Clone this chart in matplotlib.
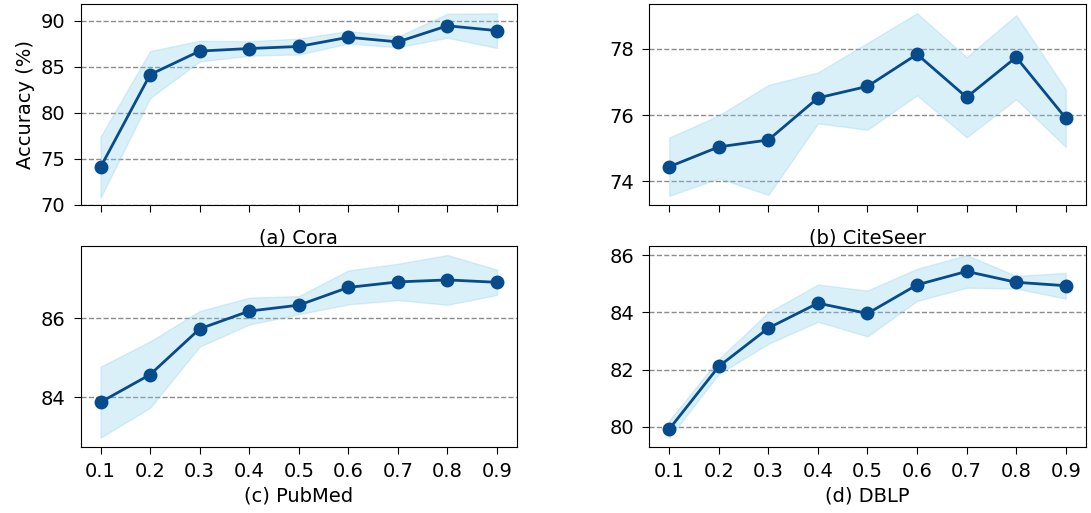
import matplotlib
matplotlib.use('Agg')
import matplotlib.pyplot as plt
import numpy as np

# ratios on the x axis
ratios = [0.1, 0.2, 0.3, 0.4, 0.5, 0.6, 0.7, 0.8, 0.9]
ratio_labels = ['0.1', '0.2', '0.3', '0.4', '0.5', '0.6', '0.7', '0.8', '0.9']

# mean accuracy and std per dataset
cora_mean = [74.1, 84.15, 86.7, 86.98, 87.2, 88.2, 87.7, 89.45, 88.92]
cora_std = [3.3, 2.55, 1.12, 0.78, 0.86, 0.68, 0.58, 1.3, 1.88]

citeseer_mean = [74.44, 75.04, 75.25, 76.52, 76.87, 77.84, 76.54, 77.75, 75.91]
citeseer_std = [0.88, 0.95, 1.66, 0.77, 1.31, 1.24, 1.21, 1.27, 0.87]

pubmed_mean = [83.87, 84.57, 85.73, 86.18, 86.33, 86.78, 86.92, 86.97, 86.91]
pubmed_std = [0.9, 0.84, 0.45, 0.34, 0.23, 0.43, 0.46, 0.63, 0.32]

dblp_mean = [79.92, 82.11, 83.45, 84.32, 83.96, 84.96, 85.43, 85.05, 84.93]
dblp_std = [0.3, 0.26, 0.55, 0.65, 0.8, 0.56, 0.57, 0.22, 0.45]

titles = ['(a) Cora', '(b) CiteSeer', '(c) PubMed', '(d) DBLP']
yticks = [[70, 75, 80, 85, 90], [74, 76, 78], [84, 86], [80, 82, 84, 86]]

line_color = '#064b8c'
fill_color = '#87ceeb'

plt.rcParams['font.size'] = 14
plt.rcParams['xtick.major.size'] = 5
plt.rcParams['ytick.major.size'] = 5
plt.rcParams['xtick.major.pad'] = 6
plt.rcParams['ytick.major.pad'] = 6

fig, axes = plt.subplots(2, 2, figsize=(10.91, 5.13), dpi=100)
fig.subplots_adjust(left=0.074, right=0.995, bottom=0.129, top=0.992,
                    wspace=0.304, hspace=0.204)

series = [(cora_mean, cora_std), (citeseer_mean, citeseer_std),
          (pubmed_mean, pubmed_std), (dblp_mean, dblp_std)]

for i, ax in enumerate(axes.flat):
    m = np.array(series[i][0])
    s = np.array(series[i][1])
    ax.fill_between(ratios, m - s, m + s, color=fill_color, alpha=0.3, zorder=1)
    ax.plot(ratios, m, '-o', color=line_color, linewidth=2, markersize=9, zorder=3)
    ax.grid(True, axis='y', linestyle='--', color='gray', linewidth=1, alpha=0.9)
    ax.set_axisbelow(True)
    ax.set_xticks(ratios)
    ax.set_yticks(yticks[i])
    ax.set_xticklabels(ratio_labels)
    if i < 2:
        ax.tick_params(axis='x', labelbottom=False)
        ax.set_xlabel(titles[i], labelpad=12)
    else:
        ax.set_xlabel(titles[i], labelpad=4)

axes[0, 0].set_ylim(bottom=70)
axes[0, 0].set_ylabel('Accuracy (%)')

plt.savefig('out.png')
